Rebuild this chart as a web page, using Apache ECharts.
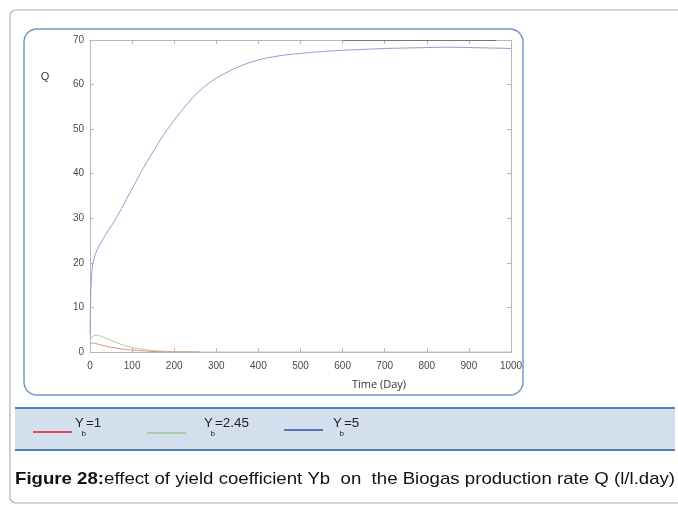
<!DOCTYPE html>
<html><head><meta charset="utf-8">
<script src="https://cdn.jsdelivr.net/npm/echarts@6/dist/echarts.min.js"></script>
<style>html,body{margin:0;padding:0;background:#fff}#c{width:678px;height:521px}</style>
</head><body><div id="c"></div>
<script>
// Data
const xTicks = [0,100,200,300,400,500,600,700,800,900,1000];
const yTicks = [0,10,20,30,40,50,60,70];
const seriesNames = ['Yb=1','Yb=2.45','Yb=5'];
const legendMain = ['=1','=2.45','=5'];

const tYb1 = [0,3,10,25,50,75,100,130,160,200,260];
const qYb1 = [2.0,2.2,2.0,1.6,1.05,0.7,0.45,0.22,0.08,0.02,0];

const tYb245 = [0,5,10,16,25,40,60,80,100,125,150,185,220,260,400,600,800,1000];
const qYb245 = [2.7,3.4,3.7,3.8,3.6,3.0,2.2,1.5,1.0,0.6,0.3,0.12,0.04,0,0,0,0,0];

const tYb5 = [0,1,2,4,7,12,20,30,45,55,63,75,85,105,125,150,175,200,225,250,275,300,340,380,420,460,500,550,600,650,700,750,800,850,900,950,1000];
const qYb5 = [4,10,14,17.5,20,21.8,23.5,25.2,27.5,28.9,30.2,32.2,34,37.5,41,45,48.8,52,55,57.7,59.8,61.5,63.5,65,66,66.6,67,67.4,67.7,67.9,68.1,68.2,68.3,68.4,68.3,68.2,68.1];

const topDarkSegment = [[600,70],[965,70]];

const pairs = (t,q) => t.map((v,i)=>[v,q[i]]);
const chart = echarts.init(document.getElementById('c'));
const axisCol = '#b8b8b8';
const lblFont = () => ({fontFamily:'Liberation Sans Narrow, Liberation Sans, sans-serif', fontSize:10, color:'#4a4a4a', formatter:(v)=>String(v)});
function mkAxis(extra){
  return Object.assign({type:'value', min:0, splitLine:{show:false},
    axisLine:{show:true,onZero:false,lineStyle:{color:axisCol,width:1}},
    axisTick:{show:true,inside:true,length:4,lineStyle:{color:axisCol}}}, extra);
}

const legendX = [33,147,284];
const legendCols = ['#e8141c','#9bc98f','#2e4fa6'];
const legendLineY = [432,433,430];
const legendTextX = [75,204,333];
const legendG = [];
const lf = '12px "Liberation Sans", Arial, sans-serif';
legendX.forEach((x,i)=>{
  legendG.push({type:'line',shape:{x1:x,y1:legendLineY[i],x2:x+39,y2:legendLineY[i]},style:{stroke:legendCols[i],lineWidth:1.3}});
  const tx = legendTextX[i];
  legendG.push({type:'text',x:tx,y:424,scaleX:1.1,style:{text:'Y',font:lf,fill:'#222',textVerticalAlign:'middle'}});
  legendG.push({type:'text',x:tx+6.5,y:434,style:{text:'b',font:'8px "Liberation Sans", Arial, sans-serif',fill:'#222',textVerticalAlign:'middle'}});
  legendG.push({type:'text',x:tx+11,y:424,scaleX:1.12,style:{text:legendMain[i],font:lf,fill:'#222',textVerticalAlign:'middle'}});
});

chart.setOption({
  animation:false,
  backgroundColor:'#fff',
  grid:{left:90,right:167,top:40,bottom:169},
  xAxis:[
    mkAxis({max:1000, interval:100, position:'bottom', axisLabel:Object.assign({margin:9},lblFont())}),
    mkAxis({max:1000, interval:100, position:'top', axisLabel:{show:false}})
  ],
  yAxis:[
    mkAxis({max:70, interval:10, position:'left', axisLabel:Object.assign({margin:6},lblFont())}),
    mkAxis({max:70, interval:10, position:'right', axisLabel:{show:false}})
  ],
  series:[
    {name:seriesNames[0],type:'line',data:pairs(tYb1,qYb1),showSymbol:false,smooth:false,lineStyle:{color:'#e39186',width:1},z:3},
    {name:seriesNames[1],type:'line',data:pairs(tYb245,qYb245),showSymbol:false,smooth:false,lineStyle:{color:'#a6d4a3',width:1},z:2},
    {name:seriesNames[2],type:'line',data:pairs(tYb5,qYb5),showSymbol:false,smooth:false,lineStyle:{color:'#9a9ad4',width:1},z:4,
     markLine:{silent:true,symbol:'none',label:{show:false},lineStyle:{color:'#777',type:'solid',width:1},data:[[{coord:topDarkSegment[0]},{coord:topDarkSegment[1]}]]}}
  ],
  graphic:[
    {type:'rect',shape:{x:10,y:10,width:720,height:493,r:6},style:{fill:'none',stroke:'#b0b0b0',lineWidth:1.2},z:-10},
    {type:'rect',shape:{x:24,y:29,width:499,height:366,r:13},style:{fill:'none',stroke:'#6f93c9',lineWidth:1.4},z:-9},
    {type:'rect',shape:{x:15,y:408,width:660,height:42},style:{fill:'#d3dfed'},z:-8},
    {type:'line',shape:{x1:15,y1:408,x2:675,y2:408},style:{stroke:'#4f80c0',lineWidth:2.2}},
    {type:'line',shape:{x1:15,y1:450,x2:675,y2:450},style:{stroke:'#4f80c0',lineWidth:2.2}},
    {type:'text',x:45,y:77,style:{text:'Q',font:'11px "Liberation Sans", Arial, sans-serif',fill:'#333',textAlign:'center',textVerticalAlign:'middle'}},
    {type:'text',x:379,y:385,style:{text:'Time (Day)',font:'11px "Open Sans", "Liberation Sans", sans-serif',fill:'#333',textAlign:'center',textVerticalAlign:'middle'}},
    {type:'text',x:15,y:479,scaleX:1.096,style:{rich:{b:{fontWeight:'bold',fontSize:17,fontFamily:'"Liberation Sans", Arial, sans-serif',fill:'#111'},n:{fontSize:17,fontFamily:'"Liberation Sans", Arial, sans-serif',fill:'#111'}},text:'{b|Figure 28:}{n|effect of yield coefficient Yb  on  the Biogas production rate Q (l/l.day)}',textVerticalAlign:'middle'}}
  ].concat(legendG)
});
</script></body></html>
